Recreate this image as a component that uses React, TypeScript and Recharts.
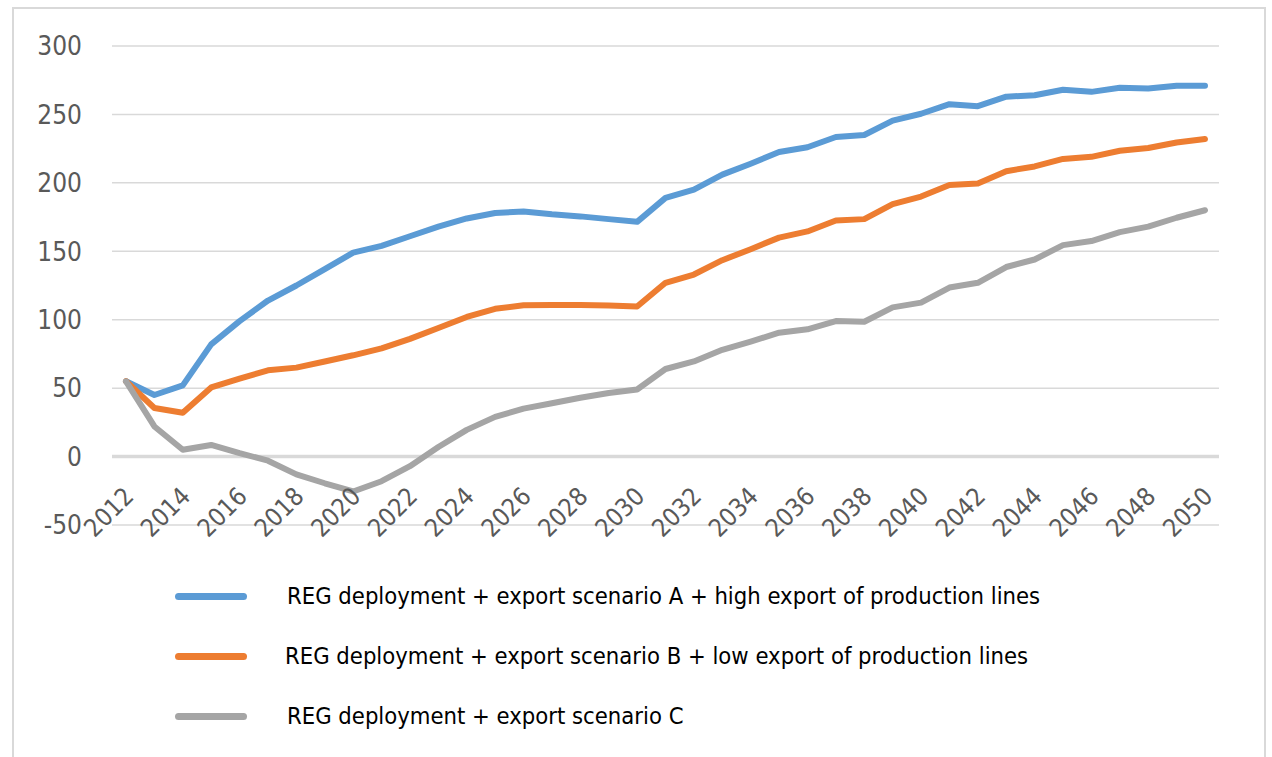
import React from 'react';
import { LineChart, Line, XAxis, YAxis, CartesianGrid, ReferenceLine, Legend } from 'recharts';

const years = [
  2012, 2013, 2014, 2015, 2016, 2017, 2018, 2019, 2020, 2021,
  2022, 2023, 2024, 2025, 2026, 2027, 2028, 2029, 2030, 2031,
  2032, 2033, 2034, 2035, 2036, 2037, 2038, 2039, 2040, 2041,
  2042, 2043, 2044, 2045, 2046, 2047, 2048, 2049, 2050,
];

const scenarioA = [
  55, 45, 52, 82, 99, 114, 125, 137, 149, 154,
  161, 168, 174, 178, 179, 177, 175.5, 173.5, 171.5, 189,
  195, 206, 214, 222.5, 226, 233.5, 235, 245.5, 250.5, 257.5,
  256, 263, 264, 268, 266.5, 269.5, 269, 271, 271,
];

const scenarioB = [
  55, 35.5, 32, 50.5, 57, 63, 65, 69.5, 74, 79,
  86, 94, 102, 108, 110.5, 110.8, 110.8, 110.3, 109.6, 127,
  133, 143.5, 151.5, 160, 164.5, 172.5, 173.5, 184.5, 190, 198.5,
  199.5, 208.5, 212, 217.5, 219, 223.5, 225.5, 229.5, 232,
];

const scenarioC = [
  55, 22, 5, 8.5, 2.5, -3, -13, -19.5, -25.5, -18,
  -7, 7, 19.5, 29, 35, 39, 43, 46.5, 49, 64,
  69.5, 78, 84, 90.5, 93, 99, 98.5, 109, 112.5, 123.5,
  127, 138.5, 144, 154.5, 157.5, 164, 168, 174.5, 180,
];

const yTicks = [-50, 0, 50, 100, 150, 200, 250, 300];

const seriesNames = [
  'REG deployment + export scenario A + high export of production lines',
  'REG deployment + export scenario B + low export of production lines',
  'REG deployment + export scenario C',
];
const seriesColors = ['#5B9BD5', '#ED7D31', '#A5A5A5'];
const seriesKeys = ['a', 'b', 'c'];

const data = years.map((y, i) => ({
  year: y,
  a: scenarioA[i],
  b: scenarioB[i],
  c: scenarioC[i],
}));

const FONT = "'DejaVu Sans Condensed', 'DejaVu Sans', sans-serif";

const XTick = (props: any) => {
  const { x, y, payload } = props;
  return (
    <g transform={`translate(${x + 9},${y - 27})`}>
      <text transform="rotate(-45)" textAnchor="end" fill="#595959" fontSize={25} fontFamily={FONT}>
        {payload.value}
      </text>
    </g>
  );
};

const LegendContent = () => (
  <div style={{ position: 'relative', width: 1272, height: 180 }}>
    {seriesNames.map((name, i) => (
      <div key={name} style={{ position: 'absolute', left: 0, top: i * 60, height: 60, width: 1272 }}>
        <div
          style={{
            position: 'absolute',
            left: 175,
            top: 26,
            width: 72,
            height: 7,
            borderRadius: 4,
            background: seriesColors[i],
          }}
        />
        <div
          style={{
            position: 'absolute',
            left: i === 1 ? 285 : 287,
            top: 15,
            fontFamily: FONT,
            fontSize: 23.6,
            lineHeight: '28px',
            color: '#000',
            whiteSpace: 'nowrap',
          }}
        >
          {name}
        </div>
      </div>
    ))}
  </div>
);

export default function App() {
  return (
    <div style={{ position: 'absolute', left: 0, top: 0, width: 1272, height: 757, background: '#fff', overflow: 'hidden' }}>
      <div
        style={{
          position: 'absolute',
          left: 12,
          top: 7,
          width: 1254,
          height: 780,
          border: '2px solid #d9d9d9',
          boxSizing: 'border-box',
        }}
      />
      <LineChart
        width={1272}
        height={757}
        data={data}
        margin={{ top: 46, right: 53, left: 0, bottom: 172 }}
      >
        <CartesianGrid vertical={false} stroke="#d9d9d9" strokeWidth={1.5} />
        <XAxis
          dataKey="year"
          interval={1}
          padding={{ left: 14, right: 14 }}
          tickSize={0}
          tickMargin={0}
          axisLine={false}
          tickLine={false}
          height={60}
          tick={<XTick />}
        />
        <YAxis
          domain={[-50, 300]}
          ticks={yTicks}
          width={112}
          tickSize={0}
          tickMargin={30}
          axisLine={false}
          tickLine={false}
          tick={{ fill: '#595959', fontSize: 26, fontFamily: FONT }}
        />
        <ReferenceLine y={0} stroke="#d9d9d9" strokeWidth={3.5} />
        {seriesKeys.map((k, i) => (
          <Line
            key={k}
            type="linear"
            dataKey={k}
            name={seriesNames[i]}
            stroke={seriesColors[i]}
            strokeWidth={6}
            strokeLinecap="round"
            strokeLinejoin="round"
            dot={false}
            activeDot={false}
            isAnimationActive={false}
          />
        ))}
        <Legend
          layout="vertical"
          align="center"
          verticalAlign="middle"
          wrapperStyle={{ position: 'absolute', left: 0, top: 567, width: 1272, height: 180 }}
          content={<LegendContent />}
        />
      </LineChart>
    </div>
  );
}
